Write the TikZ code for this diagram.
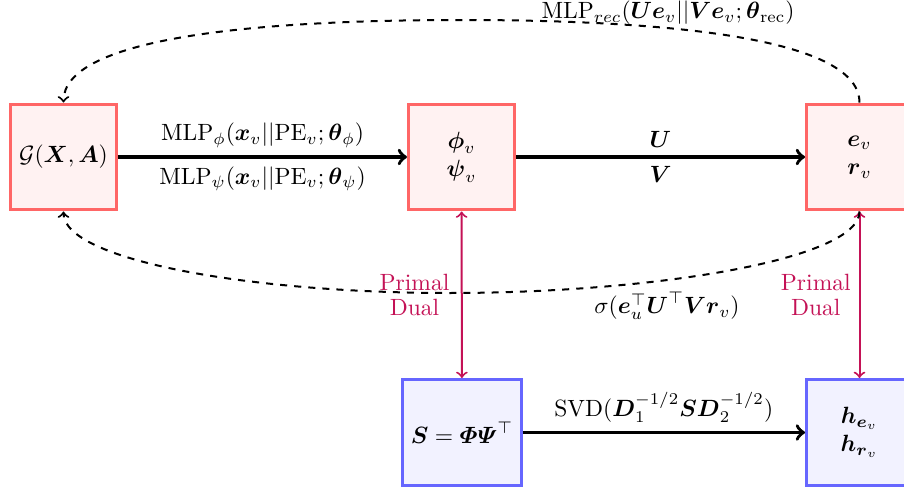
\documentclass[tikz,border=0pt]{standalone}
\usepackage{amsmath,amssymb}
\definecolor{pdcol}{RGB}{196,18,86}
\begin{document}
\begin{tikzpicture}[x=0.425pt,y=-0.425pt,
 redbox/.style={draw=red!60, fill=red!5, line width=1.3pt, minimum width=45pt, minimum height=45pt, align=center},
 bluebox/.style={draw=blue!60, fill=blue!5, line width=1.3pt, minimum width=45pt, minimum height=45pt, align=center},
 mainarrow/.style={->, line width=1.5pt},
 pdarrow/.style={<->, draw=pdcol, line width=0.85pt},
 pdlabel/.style={text=pdcol, align=center},
 dasharrow/.style={->, dashed, line width=0.85pt}]
\useasboundingbox (0,0) rectangle (904,489);

% nodes
\node[redbox] (G) at (63.5,157) {$\mathcal{G}(\boldsymbol{X},\boldsymbol{A})$};
\node[redbox] (P) at (461.5,157) {$\boldsymbol{\phi}_v$\\$\boldsymbol{\psi}_v$};
\node[redbox] (E) at (859.5,157) {$\boldsymbol{e}_v$\\$\boldsymbol{r}_v$};
\node[bluebox] (S) at (462,432.5) {$\boldsymbol{S}=\boldsymbol{\varPhi}\boldsymbol{\varPsi}^{\top}$};
\node[bluebox] (H) at (859.5,432.5) {$\boldsymbol{h}_{\boldsymbol{e}_v}$\\$\boldsymbol{h}_{\boldsymbol{r}_v}$};

% main arrows
\draw[mainarrow] (G) -- (P)
  node[midway, above] {$\mathrm{MLP}_{\phi}(\boldsymbol{x}_v||\mathrm{PE}_v;\boldsymbol{\theta}_{\phi})$}
  node[midway, below] {$\mathrm{MLP}_{\psi}(\boldsymbol{x}_v||\mathrm{PE}_v;\boldsymbol{\theta}_{\psi})$};
\draw[mainarrow] (P) -- (E)
  node[midway, above] {$\boldsymbol{U}$}
  node[midway, below] {$\boldsymbol{V}$};
\draw[mainarrow] (S) -- (H)
  node[midway, above] {$\mathrm{SVD}(\boldsymbol{D}_1^{-1/2}\boldsymbol{S}\boldsymbol{D}_2^{-1/2})$};

% primal-dual arrows
\draw[pdarrow] (P) -- (S)
  node[midway, left, pdlabel, xshift=-1.5pt] {Primal\\[-1.5pt]Dual};
\draw[pdarrow] (E) -- (H)
  node[midway, left, pdlabel] {Primal\\[-1.5pt]Dual};

% dashed reconstruction curves
\draw[dasharrow] (E.north) .. controls (859.5,40) and (680,20) .. (461,20)
  .. controls (242,20) and (63.5,40) .. (G.north);
\node[inner sep=0.5pt] (reclbl) at (668,13) {$\mathrm{MLP}_{rec}(\boldsymbol{U}\boldsymbol{e}_v||\boldsymbol{V}\boldsymbol{e}_v;\boldsymbol{\theta}_{\mathrm{rec}})$};

\draw[dasharrow] (E.south) .. controls (859.5,260) and (650,293) .. (450,293)
  .. controls (250,293) and (63.5,260) .. (G.south);
\node (siglbl) at (667,306) {$\sigma(\boldsymbol{e}_u^{\top}\boldsymbol{U}^{\top}\boldsymbol{V}\boldsymbol{r}_v)$};
\end{tikzpicture}
\end{document}
